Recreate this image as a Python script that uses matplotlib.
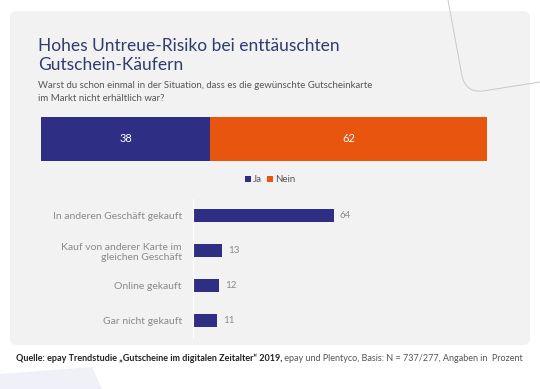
import matplotlib.pyplot as plt
from matplotlib.patches import FancyBboxPatch, Polygon, PathPatch
from matplotlib.path import Path

plt.rcParams['font.family'] = ['Lato', 'DejaVu Sans']

# Daten
anteil_labels = ["Ja", "Nein"]
anteil_werte = [38, 62]

kategorien = ["In anderen Geschäft gekauft", "Kauf von anderer Karte im\ngleichen Geschäft",
              "Online gekauft", "Gar nicht gekauft"]
werte = [64, 13, 12, 11]

navy = "#2e2e85"
orange = "#e8550f"
W, H = 540, 389

fig = plt.figure(figsize=(5.4, 3.89), dpi=100)
fig.patch.set_facecolor("white")

def fx(x):
    return x / W

def fy(y):
    return 1 - y / H

# Hintergrund-Panel
panel = FancyBboxPatch((fx(10), fy(345)), fx(520), 334 / H, boxstyle="round,pad=0,rounding_size=0.015",
                       transform=fig.transFigure, facecolor="#f2f2f2", edgecolor="none", zorder=-2)
fig.patches.append(panel)

# Dekoration oben rechts
verts = [(fx(448), fy(0)), (fx(462), fy(76)), (fx(466), fy(93)), (fx(483), fy(91)), (fx(540), fy(82))]
codes = [Path.MOVETO, Path.LINETO, Path.CURVE3, Path.CURVE3, Path.LINETO]
fig.patches.append(PathPatch(Path(verts, codes), transform=fig.transFigure, fill=False,
                             edgecolor="#c8c8c8", lw=0.7, zorder=-1))
# Dekoration unten links
fig.patches.append(Polygon([(fx(0), fy(374)), (fx(92), fy(367)), (fx(102), fy(389)), (fx(0), fy(389))],
                           closed=True, transform=fig.transFigure, facecolor="#f0f0f8",
                           edgecolor="none", zorder=-2))

# Titel
fig.text(fx(38), fy(51), "Hohes Untreue-Risiko bei enttäuschten", fontsize=12.5,
         color="#2f3c6c", va="baseline")
fig.text(fx(38), fy(70), "Gutschein-Käufern", fontsize=12.5, color="#2f3c6c", va="baseline")
fig.text(fx(38), fy(88), "Warst du schon einmal in der Situation, dass es die gewünschte Gutscheinkarte",
         fontsize=6.9, color="#555555", va="baseline")
fig.text(fx(38), fy(101), "im Markt nicht erhältlich war?", fontsize=6.9, color="#555555", va="baseline")

# Gestapelter Balken
ax1 = fig.add_axes([fx(41), fy(161), fx(446), 44 / H])
links = 0
for lab, v, c in zip(anteil_labels, anteil_werte, [navy, orange]):
    ax1.barh(0, v, left=links, height=1, color=c, label=lab)
    ax1.text(links + v / 2, 0, str(v), ha="center", va="center", color="white", fontsize=8)
    links += v
ax1.set_xlim(0, 100)
ax1.set_ylim(-0.5, 0.5)
ax1.axis("off")
fig.legend(*ax1.get_legend_handles_labels(), loc="center", bbox_to_anchor=(fx(270), fy(180)),
           ncol=2, frameon=False, fontsize=7, handlelength=0.6, handleheight=0.6,
           handletextpad=0.2, columnspacing=0.6, labelcolor="#555555")

# Untere Balken
ax2 = fig.add_axes([fx(193), fy(337.5), 220 / W, 139 / H])
pos = list(range(len(kategorien)))
ax2.barh(pos, werte, height=0.38, color=navy)
for p, v in zip(pos, werte):
    ax2.text(v + 2.8, p, str(v), va="center", ha="left", color="#8a8a8a", fontsize=7)
ax2.set_xlim(0, 100)
ax2.set_ylim(3.5, -0.5)
ax2.set_yticks(pos)
ax2.set_yticklabels(kategorien, fontsize=7.5, color="#8a8a8a", linespacing=1.25)
ax2.tick_params(axis="y", length=0, pad=8)
ax2.set_xticks([])
for s in ["top", "right", "bottom"]:
    ax2.spines[s].set_visible(False)
ax2.spines["left"].set_color("white")
ax2.spines["left"].set_linewidth(0.8)
ax2.patch.set_visible(False)

# Quelle
t1 = fig.text(fx(16), fy(361), "Quelle: epay Trendstudie \u201eGutscheine im digitalen Zeitalter\u201c 2019,",
              fontsize=6.5, fontweight="bold", color="#222222", va="baseline")
ax1.annotate(" epay und Plentyco, Basis: N = 737/277, Angaben in  Prozent", xy=(1, 0), xycoords=t1,
             fontsize=6.5, color="#555555", va="bottom", annotation_clip=False)

plt.savefig("out.png", dpi=100, facecolor="white")
